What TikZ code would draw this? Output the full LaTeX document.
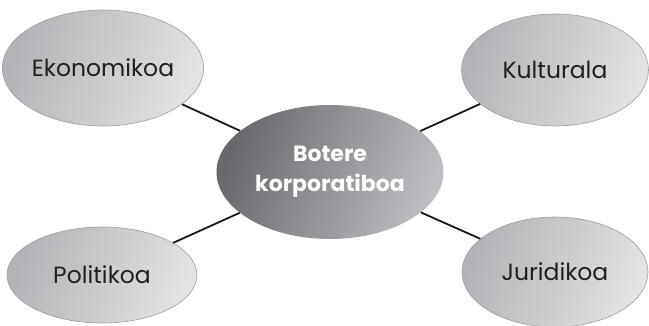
\documentclass[tikz,border=0pt]{standalone}
\usepackage{fontspec}
\setmainfont{Poppins}
\usetikzlibrary{shapes.geometric}

\definecolor{outerL}{HTML}{B2B3B6}
\definecolor{outerR}{HTML}{E2E3E4}
\definecolor{coreL}{HTML}{68696C}
\definecolor{coreR}{HTML}{BDBEC1}
\definecolor{rimgray}{HTML}{9C9DA0}
\definecolor{txtgray}{HTML}{231F20}

\begin{document}
\begin{tikzpicture}[x=1pt,y=-1pt,
  side/.style={ellipse,draw=rimgray,line width=0.6pt,left color=outerL,right color=outerR,
    shading angle=70,inner sep=0pt,text=txtgray,font=\fontsize{23.5}{28}\selectfont},
  core/.style={ellipse,draw=none,left color=coreL,right color=coreR,shading angle=70,
    inner sep=0pt,text=white,align=center,font=\bfseries\fontsize{22}{30}\selectfont},
  link/.style={line width=1.8pt,black!90}]
  \useasboundingbox (0,0) rectangle (649,325);
  \node [core,minimum width=227pt,minimum height=134pt] (bot) at (330,172) {Botere\\korporatiboa};
  \node [side,minimum width=192pt,minimum height=116pt] (eko) at (103,68) {Ekonomikoa};
  \node [side,minimum width=187pt,minimum height=112pt] (kul) at (555,70) {Kulturala};
  \node [side,minimum width=190pt,minimum height=96pt] (pol) at (102,275) {Politikoa};
  \node [side,minimum width=186pt,minimum height=110pt] (jur) at (555,272) {Juridikoa};
  \foreach \n in {eko,kul,pol,jur}
    \draw [link] (bot) -- (\n);
\end{tikzpicture}
\end{document}
